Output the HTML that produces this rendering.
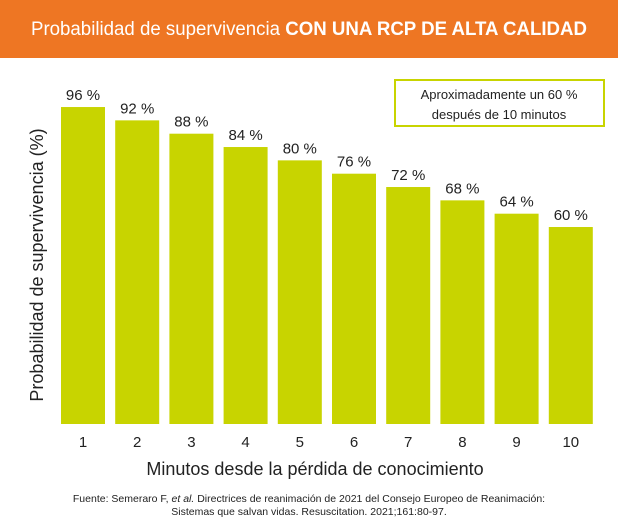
<!DOCTYPE html>
<html><head><meta charset="utf-8"><style>
body{margin:0;background:#fff;font-family:"Liberation Sans",sans-serif;}
#wrap{position:relative;width:618px;height:527px;overflow:hidden;}
</style></head><body>
<div id="wrap">
<svg id="chart" width="618" height="527">
<rect x="0" y="0" width="618" height="58" fill="#EE7623"/>
<text x="309" y="35" text-anchor="middle" fill="#fff" font-size="19" textLength="556" lengthAdjust="spacingAndGlyphs">Probabilidad de supervivencia <tspan font-weight="bold">CON UNA RCP DE ALTA CALIDAD</tspan></text>
<rect x="395" y="80" width="209" height="46" fill="#fff" stroke="#C8D400" stroke-width="2"/>
<text x="499" y="99" text-anchor="middle" font-size="13" fill="#222">Aproximadamente un 60 %</text>
<text x="499" y="119" text-anchor="middle" font-size="13" fill="#222">después de 10 minutos</text>
<text transform="translate(43,265) rotate(-90)" text-anchor="middle" font-size="18" fill="#222">Probabilidad de supervivencia (%)</text>
<text x="315" y="475" text-anchor="middle" font-size="18" fill="#222">Minutos desde la pérdida de conocimiento</text>
<text x="309" y="502" text-anchor="middle" font-size="10.5" fill="#222">Fuente: Semeraro F, <tspan font-style="italic">et al.</tspan> Directrices de reanimación de 2021 del Consejo Europeo de Reanimación:</text>
<text x="309" y="515" text-anchor="middle" font-size="10.5" fill="#222">Sistemas que salvan vidas. Resuscitation. 2021;161:80-97.</text>
<g id="bars"></g>
</svg>
</div>
<script>
const categories = ["1","2","3","4","5","6","7","8","9","10"];
const values = [96,92,88,84,80,76,72,68,64,60];
const valueLabels = ["96 %","92 %","88 %","84 %","80 %","76 %","72 %","68 %","64 %","60 %"];
const NS="http://www.w3.org/2000/svg";
const x0=61, pitch=54.2, bw=44, base=424;
function xPos(i){return x0+i*pitch;}
function yPos(v){return 427-v*3.333;}
const g=document.getElementById('bars');
values.forEach((v,i)=>{
  const r=document.createElementNS(NS,'rect');
  r.setAttribute('x',xPos(i));r.setAttribute('y',yPos(v));
  r.setAttribute('width',bw);r.setAttribute('height',base-yPos(v));
  r.setAttribute('fill','#C8D400');
  
  
  g.appendChild(r);
  const t=document.createElementNS(NS,'text');
  t.setAttribute('x',xPos(i)+bw/2);t.setAttribute('y',yPos(v)-7);
  t.setAttribute('text-anchor','middle');t.setAttribute('font-size','15');t.setAttribute('fill','#222');
  t.textContent=valueLabels[i];
  
  
  g.appendChild(t);
  const c=document.createElementNS(NS,'text');
  c.setAttribute('x',xPos(i)+bw/2);c.setAttribute('y',447);
  c.setAttribute('text-anchor','middle');c.setAttribute('font-size','15');c.setAttribute('fill','#222');
  c.textContent=categories[i];
  
  
  g.appendChild(c);
});
</script>
</body></html>
